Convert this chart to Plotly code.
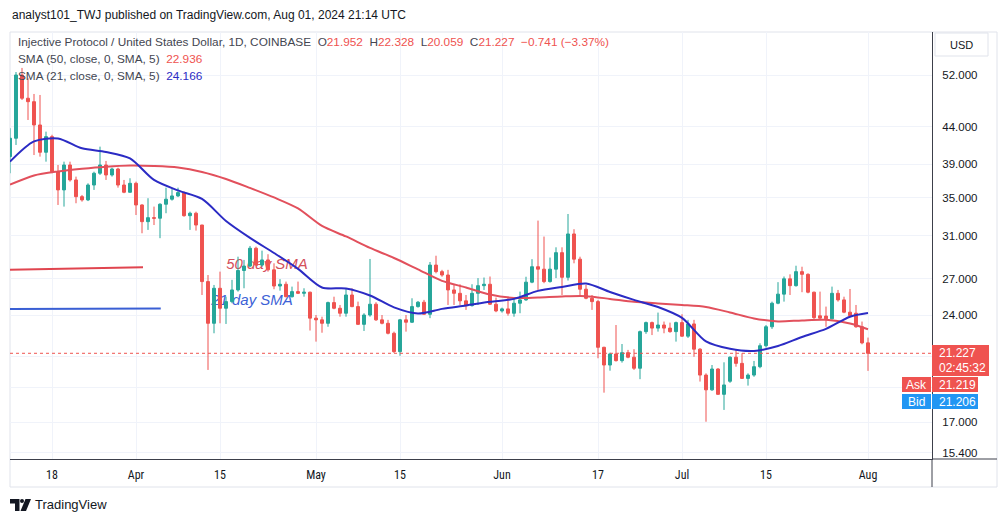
import pandas as pd
import plotly.graph_objects as go

# ---------------- data ----------------
dates = pd.date_range("2024-03-11", periods=144, freq="D")

opens = [39.98, 42.42, 52.00, 48.25, 47.72, 44.27, 40.55, 42.64, 38.09, 35.92,
         38.92, 37.09, 35.15, 34.78, 36.49, 37.90, 38.92, 37.69, 38.42, 36.49,
         35.65, 36.69, 34.22, 32.43, 32.85, 32.79, 34.30, 34.86, 35.23, 35.61,
         33.06, 33.32, 32.08, 26.74, 23.38, 26.17, 24.54, 25.07, 26.03, 27.71,
         28.11, 29.77, 28.20, 28.67, 27.77, 26.36, 26.51, 25.47, 25.89, 25.75,
         25.84, 23.77, 23.64, 23.38, 24.99, 24.54, 24.15, 25.61, 24.67, 23.30,
         24.01, 24.86, 23.64, 23.38, 22.64, 21.34, 23.64, 23.46, 24.67, 25.02,
         24.07, 28.20, 27.61, 27.31, 26.03, 25.75, 25.13, 24.75, 25.75, 26.39,
         26.51, 24.86, 24.33, 24.49, 24.15, 24.94, 25.21, 26.69, 28.05, 27.83,
         26.74, 27.83, 29.35, 27.11, 31.17, 28.74, 26.09, 25.34, 25.07, 21.64,
         20.44, 21.18, 20.73, 21.27, 20.96, 20.23, 22.76, 23.43, 23.02, 23.25,
         23.02, 22.76, 23.43, 22.43, 23.33, 21.51, 19.79, 18.87, 20.18, 18.60,
         19.40, 20.96, 20.55, 19.58, 19.79, 20.33, 21.75, 23.12, 24.94, 25.68,
         26.98, 26.39, 27.61, 27.37, 25.84, 23.95, 23.93, 23.72, 25.75, 25.21,
         24.23, 24.15, 23.12, 21.952]
highs = [43.81, 52.50, 53.20, 51.45, 48.92, 48.76, 43.33, 42.90, 38.92, 39.34,
         39.34, 37.49, 35.34, 36.69, 38.09, 41.29, 39.43, 38.58, 38.58, 37.09,
         37.29, 36.89, 34.30, 34.97, 34.04, 34.41, 36.18, 36.11, 36.18, 35.75,
         33.49, 33.49, 32.10, 27.31, 26.45, 27.61, 25.47, 26.89, 28.97, 28.67,
         29.99, 29.92, 29.54, 29.20, 28.36, 26.95, 26.74, 26.31, 26.74, 26.17,
         25.89, 24.01, 23.88, 25.07, 25.47, 24.80, 26.17, 26.17, 25.07, 24.15,
         28.76, 25.02, 24.01, 23.64, 22.76, 23.71, 24.01, 25.34, 25.12, 25.21,
         28.48, 29.06, 27.77, 27.77, 26.45, 26.51, 25.61, 26.51, 27.04, 27.09,
         27.18, 25.40, 24.59, 25.40, 25.34, 25.89, 27.16, 28.74, 32.54, 30.91,
         28.89, 29.86, 29.86, 33.24, 31.65, 28.97, 26.45, 25.61, 25.21, 21.68,
         21.27, 23.25, 21.87, 21.46, 21.51, 22.84, 23.51, 23.51, 24.20, 23.51,
         23.43, 23.51, 24.07, 23.64, 23.64, 21.58, 19.90, 20.44, 20.23, 20.62,
         21.02, 21.46, 21.23, 19.90, 20.71, 21.92, 23.25, 25.07, 26.69, 27.18,
         27.37, 28.14, 28.05, 27.46, 25.89, 25.89, 24.67, 26.31, 26.03, 25.47,
         26.11, 24.80, 23.51, 22.328]
lows = [37.90, 41.51, 47.98, 44.99, 40.19, 39.98, 39.34, 37.90, 34.22, 34.04,
        36.89, 34.41, 34.59, 34.65, 35.92, 37.69, 37.09, 37.49, 36.18, 35.54,
        35.60, 33.13, 31.24, 31.58, 32.08, 30.75, 33.32, 34.70, 35.10, 32.95,
        31.58, 31.51, 25.61, 20.12, 22.64, 23.38, 23.33, 24.94, 25.89, 26.17,
        28.00, 28.11, 28.05, 27.61, 26.09, 25.97, 25.42, 25.40, 25.69, 25.47,
        22.84, 22.04, 22.68, 23.12, 24.46, 23.88, 23.88, 24.62, 23.25, 22.81,
        23.88, 23.56, 23.30, 22.56, 21.25, 21.06, 22.76, 23.40, 24.59, 24.01,
        23.77, 27.46, 27.16, 24.80, 24.80, 24.80, 24.41, 24.67, 24.80, 26.03,
        24.80, 24.23, 24.20, 23.96, 23.88, 24.15, 25.13, 26.60, 26.03, 26.60,
        26.65, 27.04, 25.61, 26.83, 28.36, 25.61, 25.26, 24.41, 20.89, 18.70,
        20.07, 20.67, 20.60, 20.89, 20.12, 19.53, 22.60, 22.51, 22.76, 22.64,
        22.68, 22.04, 22.38, 22.30, 20.99, 19.38, 17.03, 18.81, 18.56, 17.69,
        19.30, 20.33, 19.55, 19.13, 19.68, 20.23, 21.62, 22.96, 24.86, 25.07,
        25.61, 26.31, 25.84, 25.75, 23.64, 23.71, 23.12, 23.68, 25.07, 24.15,
        23.88, 23.04, 21.85, 20.059]
closes = [42.42, 52.00, 48.25, 47.72, 44.27, 40.55, 42.64, 38.09, 35.92, 38.92,
          37.09, 35.15, 34.78, 36.49, 37.90, 38.92, 37.69, 38.42, 36.49, 35.65,
          36.69, 34.22, 32.43, 32.85, 32.79, 34.30, 34.86, 35.23, 35.61, 33.06,
          33.32, 32.08, 26.74, 23.38, 26.17, 24.54, 25.07, 26.03, 27.71, 28.11,
          29.77, 28.20, 28.67, 27.77, 26.36, 26.51, 25.47, 25.89, 25.75, 25.84,
          23.77, 23.64, 23.38, 24.99, 24.54, 24.15, 25.61, 24.67, 23.30, 24.01,
          24.86, 23.64, 23.38, 22.64, 21.34, 23.64, 23.46, 24.67, 25.02, 24.07,
          28.20, 27.61, 27.31, 26.03, 25.75, 25.13, 24.75, 25.75, 26.39, 26.51,
          24.86, 24.33, 24.49, 24.15, 24.94, 25.21, 26.69, 28.05, 27.83, 26.74,
          27.83, 29.35, 27.11, 31.17, 28.74, 26.09, 25.34, 25.07, 21.64, 20.44,
          21.18, 20.73, 21.27, 20.96, 20.23, 22.76, 23.43, 23.02, 23.25, 23.02,
          22.76, 23.43, 22.43, 23.33, 21.51, 19.79, 18.87, 20.18, 18.60, 19.17,
          20.96, 20.55, 19.58, 19.79, 20.33, 21.75, 23.12, 24.94, 25.68, 26.98,
          26.39, 27.61, 27.37, 25.84, 23.81, 23.77, 23.72, 25.75, 25.21, 24.23,
          23.96, 23.12, 21.95, 21.227]

sma_idx = list(range(0, 144, 4)) + [143]
sma_dates = dates[sma_idx]
sma21 = [39.34, 41.99, 42.39, 41.07, 40.59, 39.75, 37.09, 35.86, 34.89, 32.50,
         30.78, 29.32, 27.86, 26.24, 26.16, 25.57, 24.61, 24.13, 24.49, 24.76,
         25.05, 25.29, 25.95, 26.28, 26.58, 25.86, 25.21, 24.64, 23.79, 22.05,
         21.54, 21.39, 21.73, 22.37, 22.96, 23.88, 24.166]
sma50 = [36.53, 37.63, 38.12, 38.45, 38.71, 38.86, 38.80, 38.61, 38.06, 37.21,
         36.15, 35.06, 33.84, 31.98, 30.92, 29.80, 28.85, 27.81, 26.80, 26.24,
         25.65, 25.37, 25.41, 25.49, 25.51, 25.29, 25.05, 24.92, 24.80, 24.64,
         24.21, 23.75, 23.52, 23.60, 23.64, 23.36, 22.936]

# hand-drawn legend lines / labels on the chart (date, price)
red_mark_dates = ["2024-03-11", "2024-04-02 04:00"]
red_mark_prices = [27.77, 28.00]
blue_mark_dates = ["2024-03-11", "2024-04-05 03:00"]
blue_mark_prices = [24.49, 24.52]
label50_pos = ("2024-04-22 20:00", 28.20)
label21_pos = ("2024-04-20 08:00", 25.13)

y_ticks = [15.4, 17, 19, 21, 24, 27, 31, 35, 39, 44, 52]
y_tick_text = ["15.400", "17.000", "", "", "24.000", "27.000", "31.000",
               "35.000", "39.000", "44.000", "52.000"]
x_ticks = ["2024-03-18", "2024-04-01", "2024-04-15", "2024-05-01", "2024-05-15",
           "2024-06-01", "2024-06-17", "2024-07-01", "2024-07-15", "2024-08-01"]
x_tick_text = ["18", "Apr", "15", "May", "15", "Jun", "17", "Jul", "15", "Aug"]

change_abs = -0.741
change_pct = -3.37
ask_price = 21.219
bid_price = 21.206
countdown = "02:45:32"

# ---------------- styling ----------------
UP = "#26a69a"
DOWN = "#ef5350"
SMA50_C = "#e2505c"
SMA21_C = "#2b2bc4"
TXT = "#131722"
GRID = "#f0f3fa"
FONT = "Liberation Sans, Arial, sans-serif"
NARROW = "Liberation Sans Narrow, Roboto Condensed, Liberation Sans, sans-serif"

x_range = ["2024-03-11 00:00", "2024-08-11 16:00"]
y_range = [1.17909, 1.77612]

L, R, T, B = 10, 932, 32, 459


def px(x):
    return (x - L) / (R - L)


def py(y):
    return (B - y) / (B - T)


def P(x, y):
    return f"{px(x):.5f},{py(y):.5f}"


fig = go.Figure()

# text drawings (under the candles: base axes)
fig.add_trace(go.Scatter(
    x=[label50_pos[0]], y=[label50_pos[1]], mode="text", text=["50 day SMA"],
    textfont=dict(color="#d4505b", size=15, family=FONT, style="italic"),
    xaxis="x", yaxis="y", hoverinfo="skip"))
fig.add_trace(go.Scatter(
    x=[label21_pos[0]], y=[label21_pos[1]], mode="text", text=["21 day SMA"],
    textfont=dict(color="#3d62d6", size=15, family=FONT, style="italic"),
    xaxis="x", yaxis="y", hoverinfo="skip"))

# overlay axes: lines and candles
fig.add_trace(go.Scatter(x=red_mark_dates, y=red_mark_prices, mode="lines",
                         line=dict(color="#e0454f", width=2),
                         xaxis="x2", yaxis="y2", hoverinfo="skip"))
fig.add_trace(go.Scatter(x=blue_mark_dates, y=blue_mark_prices, mode="lines",
                         line=dict(color="#3a5fd4", width=2),
                         xaxis="x2", yaxis="y2", hoverinfo="skip"))
fig.add_trace(go.Scatter(x=sma_dates, y=sma50, mode="lines",
                         line=dict(color=SMA50_C, width=2, shape="spline", smoothing=0.8),
                         xaxis="x2", yaxis="y2", hoverinfo="skip"))
fig.add_trace(go.Scatter(x=sma_dates, y=sma21, mode="lines",
                         line=dict(color=SMA21_C, width=2, shape="spline", smoothing=0.8),
                         xaxis="x2", yaxis="y2", hoverinfo="skip"))
fig.add_trace(go.Candlestick(
    x=dates, open=opens, high=highs, low=lows, close=closes,
    increasing=dict(line=dict(color=UP, width=1), fillcolor=UP),
    decreasing=dict(line=dict(color=DOWN, width=1), fillcolor=DOWN),
    xaxis="x2", yaxis="y2", whiskerwidth=0))

last = closes[-1]

shapes = [
    # outer frame
    dict(type="rect", xref="paper", yref="paper", x0=px(10), x1=px(997),
         y0=py(487), y1=py(32), line=dict(color="#e0e3eb", width=1), layer="below"),
    # axis border extension under price scale
    dict(type="line", xref="paper", yref="paper", x0=px(932), x1=px(997),
         y0=0, y1=0, line=dict(color="#3c3f4a", width=1)),
    dict(type="line", xref="paper", yref="paper", x0=px(932), x1=px(932),
         y0=py(487), y1=0, line=dict(color="#3c3f4a", width=1)),
    # last price dotted line
    dict(type="line", xref="paper", yref="y", x0=0, x1=1, y0=last, y1=last,
         line=dict(color=DOWN, width=1, dash="dot"), layer="above"),
    # USD box
    dict(type="rect", xref="paper", yref="paper", x0=px(935), x1=px(988),
         y0=py(56), y1=py(33), line=dict(color="#e0e3eb", width=1),
         fillcolor="white", layer="above"),
    # price boxes
    dict(type="rect", xref="paper", yref="paper", x0=px(932), x1=px(989),
         y0=py(376), y1=py(345), line=dict(width=0), fillcolor=DOWN, layer="above"),
    dict(type="rect", xref="paper", yref="paper", x0=px(932), x1=px(978),
         y0=py(392), y1=py(377), line=dict(width=0), fillcolor=DOWN, layer="above"),
    dict(type="rect", xref="paper", yref="paper", x0=px(902), x1=px(931),
         y0=py(392), y1=py(377), line=dict(width=0), fillcolor=DOWN, layer="above"),
    dict(type="rect", xref="paper", yref="paper", x0=px(932), x1=px(978),
         y0=py(409), y1=py(394), line=dict(width=0), fillcolor="#2196f3", layer="above"),
    dict(type="rect", xref="paper", yref="paper", x0=px(902), x1=px(931),
         y0=py(409), y1=py(394), line=dict(width=0), fillcolor="#2196f3", layer="above"),
    # TradingView logo
    dict(type="path", xref="paper", yref="paper",
         path="M" + P(10, 499) + " L" + P(19.5, 499) + " L" + P(19.5, 511) + " L" + P(15, 511)
              + " L" + P(15, 503.5) + " L" + P(10, 503.5) + " Z",
         fillcolor=TXT, line=dict(width=0)),
    dict(type="circle", xref="paper", yref="paper", x0=px(20), x1=px(24),
         y0=py(503), y1=py(499), fillcolor=TXT, line=dict(width=0)),
    dict(type="path", xref="paper", yref="paper",
         path="M" + P(25.5, 499) + " L" + P(31, 499) + " L" + P(26, 511) + " L" + P(20.5, 511) + " Z",
         fillcolor=TXT, line=dict(width=0)),
]

red = lambda s: f"<span style='color:{DOWN}'>{s}</span>"
blue = lambda s: f"<span style='color:{SMA21_C}'>{s}</span>"
sp = "\u00a0\u00a0"
line1 = ("Injective Protocol / United States Dollar, 1D, COINBASE" + sp
         + "O" + red(f"{opens[-1]:.3f}") + sp + "H" + red(f"{highs[-1]:.3f}") + sp
         + "L" + red(f"{lows[-1]:.3f}") + sp + "C" + red(f"{closes[-1]:.3f}") + sp
         + red(f"\u2212{abs(change_abs):.3f} (\u2212{abs(change_pct):.2f}%)"))
line2 = "SMA (50, close, 0, SMA, 5)" + sp + red(f"{sma50[-1]:.3f}")
line3 = "SMA (21, close, 0, SMA, 5)" + sp + blue(f"{sma21[-1]:.3f}")


def ann(x, y, text, size=12, color=TXT, anchor="left", family=FONT):
    return dict(x=px(x), y=py(y), xref="paper", yref="paper", text=text,
                showarrow=False, xanchor=anchor, yanchor="middle",
                font=dict(size=size, color=color, family=family))


annotations = [
    ann(10, 15, "analyst101_TWJ published on TradingView.com, Aug 01, 2024 21:14 UTC", size=12),
    ann(16, 42, line1, size=11.8, color="#434651"),
    ann(16, 59, line2, size=11.8, color="#434651"),
    ann(16, 76, line3, size=11.8, color="#434651"),
    ann(961.5, 44.5, "USD", size=11, anchor="center"),
    ann(937, 353, f"{last:.3f}", size=12, color="white"),
    ann(937, 368, countdown, size=12, color="white"),
    ann(937, 384.5, f"{ask_price:.3f}", size=12, color="white"),
    ann(937, 401.5, f"{bid_price:.3f}", size=12, color="white"),
    ann(916.5, 384.5, "Ask", size=12, color="white", anchor="center"),
    ann(916.5, 401.5, "Bid", size=12, color="white", anchor="center"),
    ann(33, 505, "TradingView", size=13),
]

fig.update_layout(
    width=1003, height=522,
    margin=dict(l=L, r=1003 - R, t=T, b=522 - B, pad=0),
    paper_bgcolor="white", plot_bgcolor="white",
    showlegend=False,
    xaxis=dict(type="date", range=x_range, tickvals=x_ticks, ticktext=x_tick_text,
               showgrid=True, gridcolor=GRID, gridwidth=1, zeroline=False,
               showline=True, linecolor="#3c3f4a", linewidth=1, ticks="",
               ticklabelstandoff=5,
               tickfont=dict(size=12, color=TXT, family=NARROW),
               rangeslider=dict(visible=False), fixedrange=True),
    yaxis=dict(type="log", range=y_range, side="right", tickvals=y_ticks,
               ticktext=y_tick_text, showgrid=True, gridcolor=GRID, gridwidth=1,
               zeroline=False, showline=True, linecolor="#3c3f4a", linewidth=1,
               ticks="", ticklabelstandoff=7,
               tickfont=dict(size=11.5, color=TXT, family=FONT), fixedrange=True),
    xaxis2=dict(type="date", range=x_range, overlaying="x", anchor="y2",
                visible=False, rangeslider=dict(visible=False), fixedrange=True),
    yaxis2=dict(type="log", range=y_range, overlaying="y", anchor="x2",
                side="right", visible=False, fixedrange=True),
    shapes=shapes,
    annotations=annotations,
    hovermode=False,
)

fig.write_html("out.html")
